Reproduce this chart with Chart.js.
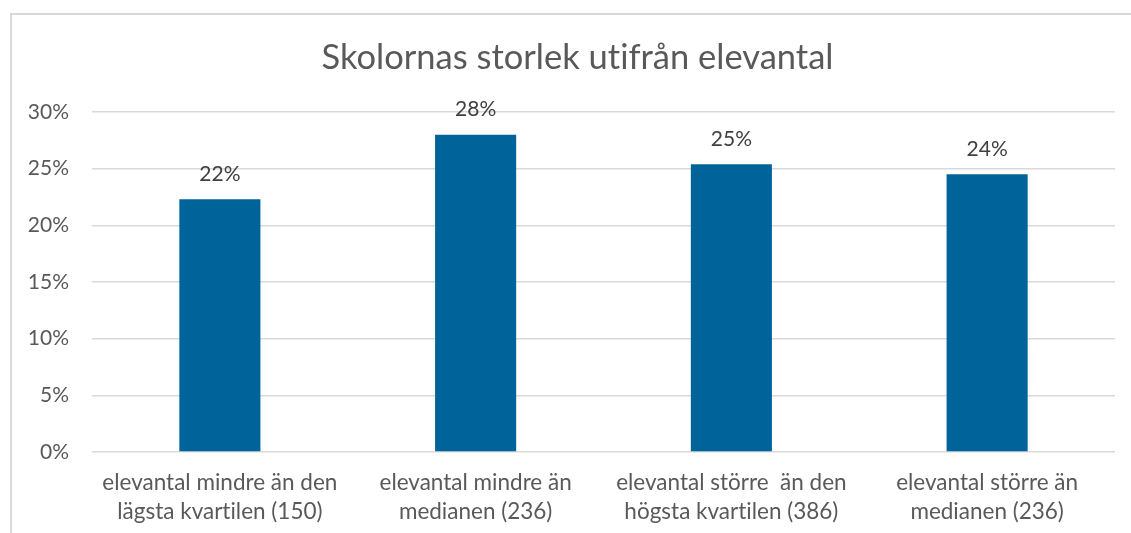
<!DOCTYPE html>
<html>
<head>
<meta charset="utf-8">
<script src="https://cdn.jsdelivr.net/npm/chart.js@4"></script>
<style>
  html, body { margin:0; padding:0; background:#fff; }
  #wrap { position:relative; width:1131px; height:533px; overflow:hidden; }
  #frame { position:absolute; left:10px; top:13px; width:1200px; height:600px;
           border-left:2px solid #d9d9d9; border-top:2px solid #d9d9d9; }
  #c { position:absolute; left:0; top:0; }
</style>
</head>
<body>
<div id="wrap">
  <div id="frame"></div>
  <canvas id="c" width="1131" height="533"></canvas>
</div>
<script>
// Skolornas storlek utifrån elevantal — stapeldiagram

const TITLE = 'Skolornas storlek utifrån elevantal';
const categories = [
  ['elevantal mindre än den', 'lägsta kvartilen (150)'],
  ['elevantal mindre än', 'medianen (236)'],
  ['elevantal större  än den', 'högsta kvartilen (386)'],
  ['elevantal större än', 'medianen (236)']
];
const values = [22.3, 28.0, 25.4, 24.5];
const valueLabels = ['22%', '28%', '25%', '24%'];
const yTicks = [0, 5, 10, 15, 20, 25, 30];

const FONT = 'Lato, "Open Sans", sans-serif';
const BAR = '#006399';
const TEXT = '#595959';

// inga ligaturer (Lato slår annars ihop "ti")
const noLigatures = {
  id: 'noLigatures',
  beforeDraw(chart) {
    const ctx = chart.ctx;
    if ('textRendering' in ctx) ctx.textRendering = 'optimizeSpeed';
    if ('fontKerning' in ctx) ctx.fontKerning = 'normal';
  }
};

// rubriken centreras över ramen, inte över ritytan
const titleText = {
  id: 'titleText',
  afterDraw(chart) {
    const ctx = chart.ctx;
    ctx.save();
    ctx.font = '34.5px ' + FONT;
    ctx.fillStyle = TEXT;
    ctx.textAlign = 'center';
    ctx.textBaseline = 'middle';
    ctx.fillText(TITLE, chart.width / 2 + 12, 58);
    ctx.restore();
  }
};

const barLabels = {
  id: 'barLabels',
  afterDatasetsDraw(chart) {
    const ctx = chart.ctx;
    const meta = chart.getDatasetMeta(0);
    ctx.save();
    ctx.font = '21px ' + FONT;
    ctx.fillStyle = '#404040';
    ctx.textAlign = 'center';
    ctx.textBaseline = 'middle';
    meta.data.forEach((bar, i) => {
      ctx.fillText(valueLabels[i], bar.x, bar.y - 25);
    });
    ctx.restore();
  }
};

new Chart(document.getElementById('c'), {
  type: 'bar',
  data: {
    labels: categories,
    datasets: [{
      data: values,
      backgroundColor: BAR,
      borderWidth: 0,
      categoryPercentage: 1,
      barPercentage: 0.317
    }]
  },
  options: {
    responsive: false,
    animation: false,
    layout: { padding: { left: 0, right: 16, top: 112, bottom: 0 } },
    plugins: {
      legend: { display: false },
      tooltip: { enabled: false },
      title: { display: false }
    },
    scales: {
      y: {
        min: 0,
        max: 30,
        afterBuildTicks: s => { s.ticks = yTicks.map(v => ({ value: v })); },
        afterFit: s => { s.width = 92; s.paddingTop = 0; },
        border: { display: false },
        grid: { color: '#d9d9d9', lineWidth: 1.5, drawTicks: false },
        ticks: {
          color: TEXT,
          padding: 23,
          font: { family: FONT, size: 21 },
          callback: v => v + '%'
        }
      },
      x: {
        afterFit: s => { s.height = 81; },
        border: { display: false },
        grid: { display: false, drawTicks: false },
        ticks: {
          color: TEXT,
          padding: 16,
          maxRotation: 0,
          autoSkip: false,
          font: { family: FONT, size: 22.5, lineHeight: 1.3 }
        }
      }
    }
  },
  plugins: [noLigatures, barLabels, titleText]
});
</script>
</body>
</html>
